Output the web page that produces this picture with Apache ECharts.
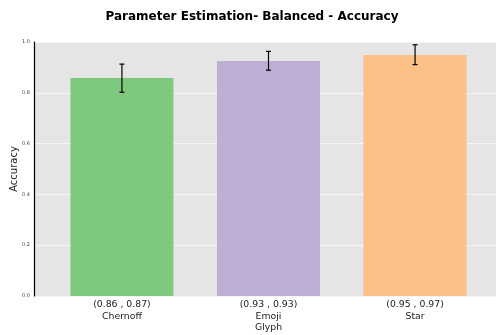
<!DOCTYPE html>
<html><head><meta charset="utf-8">
<script src="https://cdn.jsdelivr.net/npm/echarts@6/dist/echarts.min.js"></script>
<style>html,body{margin:0;padding:0;background:#fff}#c{width:496px;height:335px}</style>
</head><body><div id="c"></div>
<script>
const categories = ['Chernoff', 'Emoji', 'Star'];
const intervals = ['(0.86 , 0.87)', '(0.93 , 0.93)', '(0.95 , 0.97)'];
const accuracy = [0.858, 0.925, 0.949];
const errLow = [0.802, 0.889, 0.911];
const errHigh = [0.913, 0.963, 0.989];
const colors = ['#7fc97f', '#beaed4', '#fdc086'];

const chart = echarts.init(document.getElementById('c'), null, {renderer: 'canvas'});
const font = 'DejaVu Sans';
chart.setOption({
  animation: false,
  title: {
    text: 'Parameter Estimation- Balanced - Accuracy',
    left: 247, top: 6, textAlign: 'center',
    textStyle: {fontFamily: font, fontWeight: 'bold', fontSize: 12, color: '#000'}
  },
  grid: {left: 34, top: 42, width: 469, height: 254, show: true, backgroundColor: '#e5e5e5', borderWidth: 0,
         containLabel: false, outerBoundsMode: 'none'},
  xAxis: {
    type: 'value', min: -0.6, max: 2.6,
    name: 'Glyph', nameLocation: 'middle', nameGap: 27, nameMoveOverlap: false,
    nameTextStyle: {fontFamily: font, fontSize: 9.3, color: '#222'},
    axisLine: {show: false}, axisTick: {show: false}, splitLine: {show: false},
    axisLabel: {
      customValues: [0, 1, 2],
      fontFamily: font, fontSize: 9.3, color: '#222', lineHeight: 12, margin: 3,
      formatter: v => { const i = Math.round(v); return intervals[i] + '\n' + categories[i]; }
    }
  },
  yAxis: {
    type: 'value', min: 0, max: 1, interval: 0.2,
    name: 'Accuracy', nameLocation: 'middle', nameGap: 15, nameMoveOverlap: false,
    nameTextStyle: {fontFamily: font, fontSize: 10, color: '#222'},
    axisLine: {show: true, onZero: false, lineStyle: {color: '#000', width: 1.2}},
    axisTick: {show: false},
    splitLine: {show: true, lineStyle: {color: '#f5f5f5', width: 1.2}},
    axisLabel: {fontFamily: font, fontSize: 5, color: '#444', margin: 4, formatter: v => v.toFixed(1)}
  },
  series: [
    {
      type: 'bar', barWidth: 103,
      data: accuracy.map((v, i) => ({value: [i, v], itemStyle: {color: colors[i]}})),
      z: 2
    },
    {
      type: 'custom', z: 5,
      data: accuracy.map((v, i) => [i, errLow[i], errHigh[i]]),
      renderItem: (params, api) => {
        const lo = api.coord([api.value(0), api.value(1)]);
        const hi = api.coord([api.value(0), api.value(2)]);
        const cw = 2.5;
        const st = {stroke: '#000', lineWidth: 1.2};
        return {type: 'group', children: [
          {type: 'line', shape: {x1: lo[0], y1: lo[1], x2: hi[0], y2: hi[1]}, style: st},
          {type: 'line', shape: {x1: lo[0]-cw, y1: lo[1], x2: lo[0]+cw, y2: lo[1]}, style: st},
          {type: 'line', shape: {x1: hi[0]-cw, y1: hi[1], x2: hi[0]+cw, y2: hi[1]}, style: st}
        ]};
      }
    }
  ]
});
</script></body></html>
